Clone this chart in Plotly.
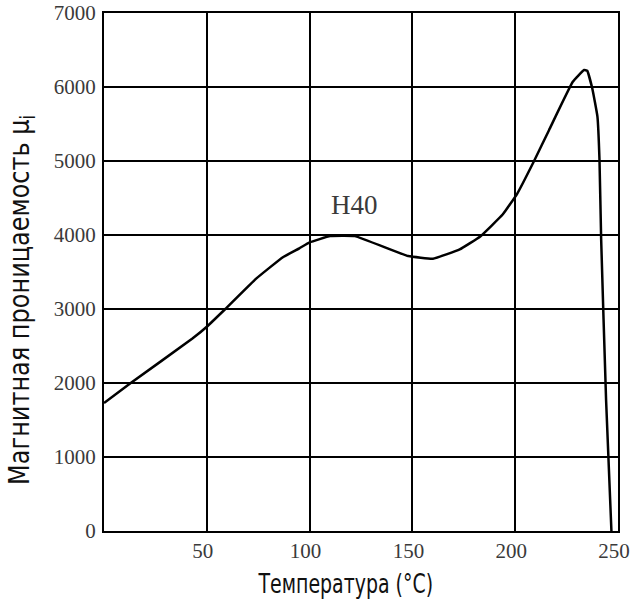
import plotly.graph_objects as go

# Temperature (°C) and initial permeability for ferrite H40
temperature = [0, 13, 43, 50, 59, 74, 87, 95, 100, 110, 122, 148, 160, 173, 183, 194,
               201, 209, 216.5, 228, 233.5, 235, 237.5, 240, 241, 241.8, 244.2, 246.8]
permeability = [1730, 2000, 2600, 2760, 3000, 3410, 3700, 3820, 3900, 3985, 3985, 3715,
                3680, 3805, 3980, 4280, 4560, 4990, 5420, 6070, 6230, 6220, 5980, 5600,
                5010, 3950, 1770, 0]

x_ticks = [50, 100, 150, 200, 250]
y_ticks = [0, 1000, 2000, 3000, 4000, 5000, 6000, 7000]

curve_label = "H40"
curve_label_pos = (121.8, 4400)

x_title = "Температура (°C)"
y_title = "Магнитная проницаемость μ<sub>i</sub>"

fig = go.Figure()
fig.add_trace(go.Scatter(
    x=temperature, y=permeability, mode="lines",
    line=dict(color="black", width=2.5, shape="spline", smoothing=0.3),
    showlegend=False, hoverinfo="skip"))

fig.add_annotation(x=curve_label_pos[0], y=curve_label_pos[1], text=curve_label,
                   showarrow=False, font=dict(family="Liberation Serif", size=27, color="#3a3a3a"))

title_font = dict(family="Liberation Sans Narrow, DejaVu Sans Condensed, Liberation Sans, Arial",
                  size=27, color="#111")
fig.add_annotation(xref="paper", yref="paper", x=(345 - 104) / 514, y=(531 - 583) / 518,
                   text=x_title, showarrow=False, font=title_font, xanchor="center", yanchor="middle")
fig.add_annotation(xref="paper", yref="paper", x=(21 - 104) / 514, y=(531 - 300) / 518,
                   text=y_title, showarrow=False, textangle=-90,
                   font=dict(title_font, size=29), xanchor="center", yanchor="middle")

tick_font = dict(family="Liberation Serif", size=21, color="#3a3a3a")
fig.update_xaxes(range=[0, 250], tickvals=x_ticks, ticktext=[str(v) for v in x_ticks],
                 showgrid=True, gridcolor="black", gridwidth=2,
                 showline=True, linecolor="black", linewidth=2, mirror=True,
                 ticks="", tickfont=tick_font, zeroline=False, ticklabelshift=-4,
                 automargin=False)
fig.update_yaxes(range=[0, 7000], tickvals=y_ticks, ticktext=[str(v) for v in y_ticks],
                 showgrid=True, gridcolor="black", gridwidth=2,
                 showline=True, linecolor="black", linewidth=2, mirror=True,
                 ticks="", tickfont=tick_font, zeroline=False, ticklabelstandoff=2,
                 automargin=False)

fig.update_layout(width=630, height=604, margin=dict(l=104, r=12, t=13, b=73),
                  plot_bgcolor="white", paper_bgcolor="white")

post_js = """
document.body.style.margin = '0';
function condenseTitles() {
  document.querySelectorAll('.annotation-text').forEach(function (el) {
    var t = el.textContent || '';
    var s = null;
    if (t.indexOf('Температура') >= 0) s = 0.78;
    if (t.indexOf('Магнитная') >= 0) s = 0.92;
    if (s) {
      el.style.transformBox = 'fill-box';
      el.style.transformOrigin = 'center';
      el.style.transform = 'scaleX(' + s + ')';
    }
  });
}
condenseTitles();
setTimeout(condenseTitles, 0);
"""

fig.write_html("out.html", post_script=post_js, config={"displayModeBar": False})
